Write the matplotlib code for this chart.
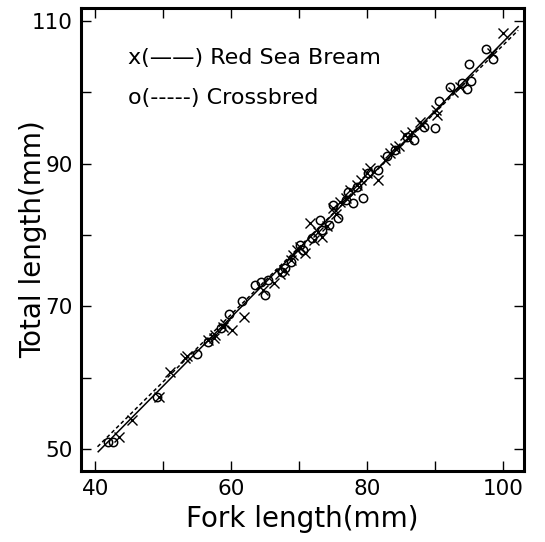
import numpy as np
import matplotlib.pyplot as plt

# Red Sea Bream (x markers): fork length, total length
rsb_fl = [43.4, 45.4, 49.3, 51.0, 53.2, 53.5, 56.5, 57.4, 57.6, 58.7, 59.0, 60.1,
          61.8, 64.6, 66.2, 67.2, 67.8, 68.7, 69.0, 69.6, 70.1, 70.9, 71.6, 72.1,
          72.8, 73.4, 74.0, 74.9, 75.4, 76.0, 76.9, 77.5, 78.5, 79.0, 79.9, 80.4,
          81.5, 82.6, 83.4, 84.1, 84.6, 85.6, 86.0, 86.6, 87.8, 88.1, 90.1, 90.3,
          92.6, 93.7, 98.4, 100.0]
rsb_tl = [51.7, 54.1, 57.3, 60.8, 62.8, 63.0, 65.3, 65.6, 66.0, 67.1, 67.5, 66.7,
          68.5, 72.3, 73.3, 74.5, 75.1, 76.5, 77.2, 77.9, 78.3, 77.5, 81.7, 79.3,
          80.4, 79.7, 81.3, 83.8, 83.0, 84.6, 85.2, 86.3, 87.0, 87.7, 88.7, 89.4,
          87.7, 90.5, 91.5, 92.2, 92.4, 94.0, 93.6, 94.5, 95.9, 95.4, 97.5, 96.8,
          100.1, 100.8, 105.5, 108.3]

# Crossbred (o markers)
cb_fl = [41.9, 42.6, 49.0, 55.0, 56.5, 58.4, 59.6, 61.6, 63.5, 64.3, 64.9, 65.4,
         67.5, 67.9, 68.7, 70.1, 70.6, 71.9, 73.1, 73.4, 74.3, 75.7, 75.0, 76.8,
         77.2, 77.9, 78.5, 79.4, 80.1, 81.5, 82.9, 84.1, 85.9, 86.8, 88.4, 89.9,
         90.6, 92.2, 94.0, 94.6, 95.3, 94.9, 97.5, 98.5]
cb_tl = [51.0, 51.0, 57.3, 63.3, 65.0, 67.0, 68.9, 70.8, 73.0, 73.4, 71.6, 73.7,
         74.8, 75.4, 76.2, 78.6, 77.9, 79.6, 82.1, 80.7, 81.4, 82.4, 84.2, 84.9,
         86.0, 84.5, 86.7, 85.2, 88.7, 89.1, 91.0, 91.9, 93.8, 93.3, 95.2, 95.0,
         98.8, 100.8, 101.3, 100.5, 101.6, 104.0, 106.0, 104.7]

# regression lines (end points)
rsb_line_x = [40.4, 102.2]
rsb_line_y = [49.6, 109.2]
cb_line_x = [40.3, 102.2]
cb_line_y = [50.3, 108.7]

plt.rcParams['font.family'] = ['DejaVu Sans']

fig = plt.figure(figsize=(5.45, 5.42), dpi=100)
ax = fig.add_axes([0.149, 0.131, 0.813, 0.854])

ax.plot(rsb_line_x, rsb_line_y, color='black', lw=1.1, ls='-')
ax.plot(cb_line_x, cb_line_y, color='black', lw=1.1, ls=(0, (2.5, 1.8)))
ax.plot(rsb_fl, rsb_tl, ls='none', marker='x', ms=7.5, mew=1.0, color='black')
ax.plot(cb_fl, cb_tl, ls='none', marker='o', ms=6, mew=1.1,
        markerfacecolor='none', markeredgecolor='black')

ax.set_xlim(37.9, 103.1)
ax.set_ylim(46.9, 111.8)
ax.set_xticks(np.arange(40, 101, 10))
ax.set_xticklabels(['40', '', '60', '', '80', '', '100'])
ax.set_yticks(np.arange(50, 111, 10))
ax.set_yticklabels(['50', '', '70', '', '90', '', '110'])
ax.tick_params(direction='in', length=7, width=1.0, top=True, right=True,
               labelsize=15.5, pad=6)
for s in ax.spines.values():
    s.set_linewidth(2.2)

ax.set_xlabel('Fork length(mm)', fontsize=20, labelpad=4)
ax.set_ylabel('Total length(mm)', fontsize=20)
ax.yaxis.set_label_coords(-0.078, 0.5)

ax.text(0.106, 0.892, 'x(\u2014\u2014) Red Sea Bream', transform=ax.transAxes,
        fontsize=16, va='center', ha='left')
ax.text(0.106, 0.806, 'o(-----) Crossbred', transform=ax.transAxes,
        fontsize=16, va='center', ha='left')

fig.savefig('out.png', dpi=100)
